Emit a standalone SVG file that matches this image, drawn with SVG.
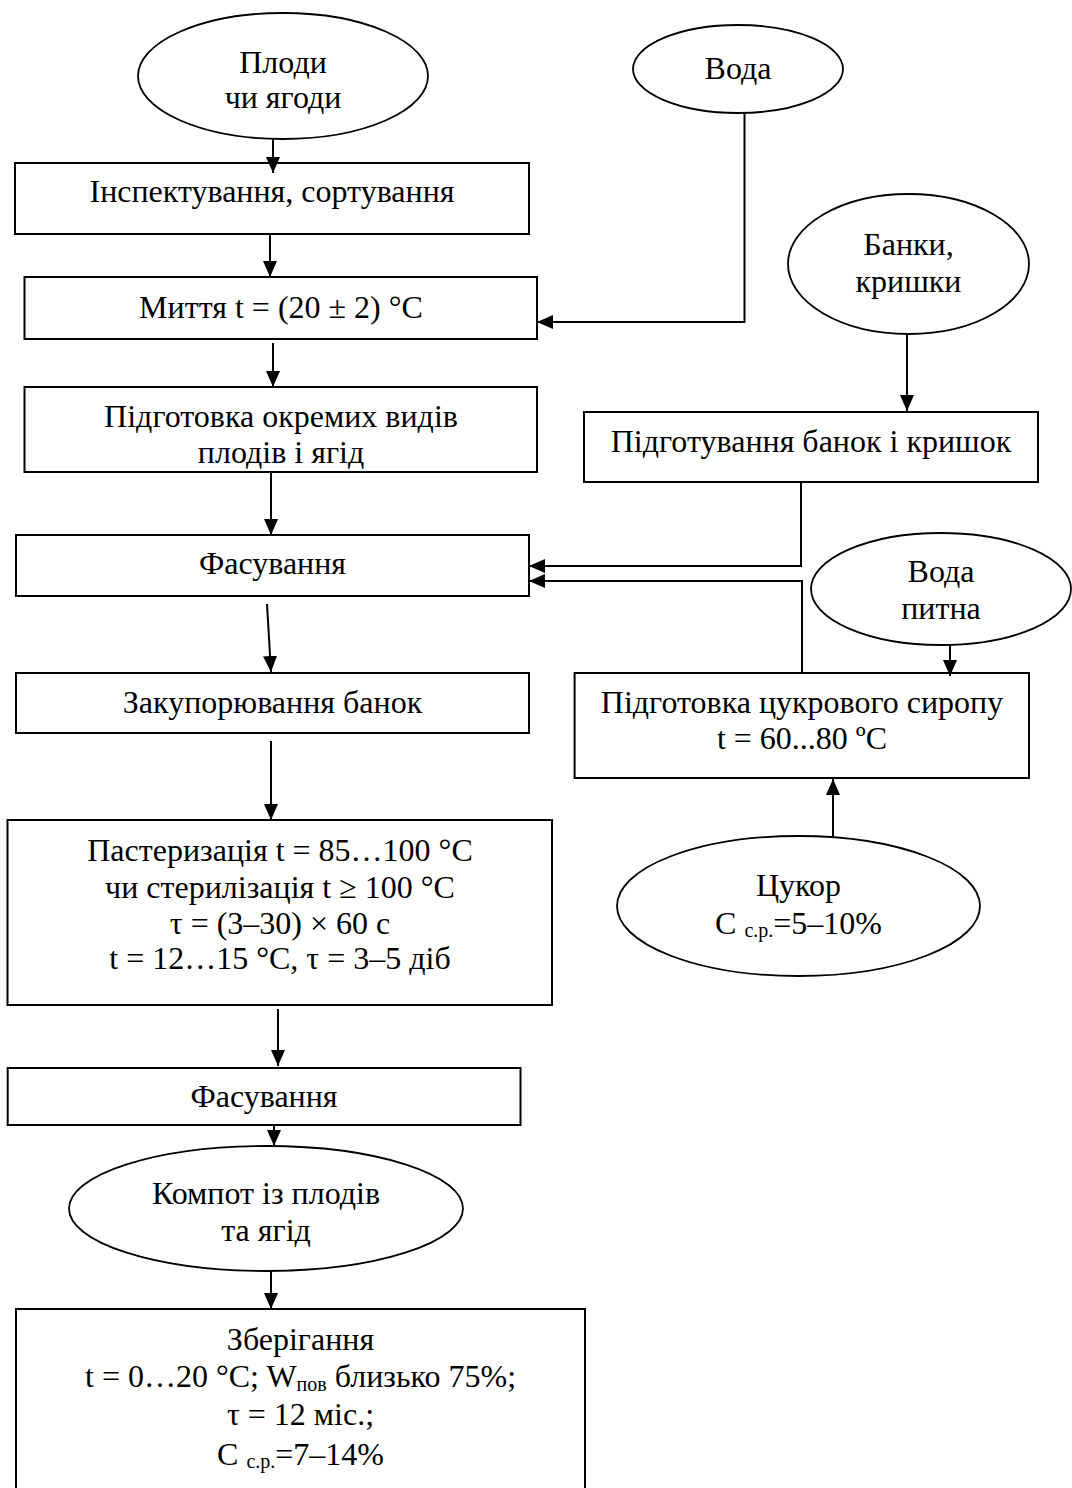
<svg xmlns="http://www.w3.org/2000/svg" width="1072" height="1488" viewBox="0 0 1072 1488">
<style>
text{font-family:"Liberation Serif","Times New Roman",serif;font-size:32px;fill:#000;text-anchor:middle}
.box{fill:#fff;stroke:#000;stroke-width:2}
.ov{fill:#fff;stroke:#000;stroke-width:1.8}
.c{fill:none;stroke:#000;stroke-width:2}
.sub{font-size:20px}
</style>
<defs>
<marker id="ah" markerWidth="16" markerHeight="14" refX="16" refY="7" orient="auto" markerUnits="userSpaceOnUse">
<path d="M0,0 L16,7 L0,14 z" fill="#000"/>
</marker>
</defs>
<rect width="1072" height="1488" fill="#fff"/>

<g id="n-plody"><ellipse class="ov" cx="283" cy="76" rx="145" ry="63"/><text x="283" y="73">Плоди</text><text x="283" y="108">чи ягоди</text></g>
<g id="n-insp"><rect class="box" x="15" y="163" width="514" height="71"/><text x="272" y="202">Інспектування, сортування</text></g>
<g id="n-myttia"><rect class="box" x="24.5" y="277" width="512.5" height="62"/><text x="281" y="318">Миття t = (20 ± 2) °C</text></g>
<g id="n-pidg"><rect class="box" x="24.5" y="387" width="512.5" height="85"/><text x="281" y="427">Підготовка окремих видів</text><text x="281" y="463">плодів і ягід</text></g>
<g id="n-fas1"><rect class="box" x="16" y="535" width="513" height="61"/><text x="272.5" y="574">Фасування</text></g>
<g id="n-zak"><rect class="box" x="16" y="673" width="513" height="60"/><text x="272.5" y="713">Закупорювання банок</text></g>
<g id="n-past"><rect class="box" x="7.5" y="820" width="544.5" height="185"/><text x="280" y="861">Пастеризація t = 85…100 °C</text><text x="280" y="898">чи стерилізація t ≥ 100 °C</text><text x="280" y="934">τ = (3–30) × 60 с</text><text x="280" y="969">t = 12…15 °C, τ = 3–5 діб</text></g>
<g id="n-fas2"><rect class="box" x="7.7" y="1068" width="512.8" height="57"/><text x="264" y="1107">Фасування</text></g>
<g id="n-kompot"><ellipse class="ov" cx="266" cy="1208.5" rx="197" ry="62.5"/><text x="266" y="1204">Компот із плодів</text><text x="266" y="1241">та ягід</text></g>
<g id="n-zber"><rect class="box" x="16" y="1309" width="569" height="190"/><text x="300.5" y="1350">Зберігання</text><text x="300.5" y="1387">t = 0…20 °C; W<tspan class="sub" dy="4">пов</tspan><tspan dy="-4"> близько 75%;</tspan></text><text x="300.5" y="1425">τ = 12 міс.;</text><text x="300.5" y="1465">C <tspan class="sub" dy="3">с.р.</tspan><tspan dy="-3">=7–14%</tspan></text></g>

<g id="n-voda"><ellipse class="ov" cx="738" cy="69" rx="105" ry="44"/><text x="738" y="79">Вода</text></g>
<g id="n-banky"><ellipse class="ov" cx="908.5" cy="264" rx="120.5" ry="70"/><text x="908.5" y="255">Банки,</text><text x="908.5" y="292">кришки</text></g>
<g id="n-pidg-bank"><rect class="box" x="584" y="412" width="454" height="70"/><text x="811" y="452">Підготування банок і кришок</text></g>
<g id="n-voda-pytna"><ellipse class="ov" cx="941" cy="589" rx="130" ry="56"/><text x="941" y="582">Вода</text><text x="941" y="619">питна</text></g>
<g id="n-syrop"><rect class="box" x="574.6" y="673" width="454.4" height="105"/><text x="802" y="713">Підготовка цукрового сиропу</text><text x="802" y="749">t = 60...80 ºC</text></g>
<g id="n-tsukor"><ellipse class="ov" cx="798.5" cy="906" rx="181.5" ry="70"/><text x="798.5" y="896">Цукор</text><text x="798.5" y="934">C <tspan class="sub" dy="3">с.р.</tspan><tspan dy="-3">=5–10%</tspan></text></g>

<g id="connectors" class="c">
<path class="c" d="M273,139 L273,173" marker-end="url(#ah)"/>
<path class="c" d="M270,234 L270,277" marker-end="url(#ah)"/>
<path class="c" d="M273,343 L273,387" marker-end="url(#ah)"/>
<path class="c" d="M271,472 L271,535" marker-end="url(#ah)"/>
<path class="c" d="M267,604 L271,672" marker-end="url(#ah)"/>
<path class="c" d="M271,741 L271,820" marker-end="url(#ah)"/>
<path class="c" d="M278,1009 L278,1066" marker-end="url(#ah)"/>
<path class="c" d="M274,1125 L274,1146" marker-end="url(#ah)"/>
<path class="c" d="M271,1271 L271,1309" marker-end="url(#ah)"/>
<path class="c" d="M744.5,113 L744.5,322 L537,322" marker-end="url(#ah)"/>
<path class="c" d="M907,334 L907,411" marker-end="url(#ah)"/>
<path class="c" d="M801,482 L801,566 L529,566" marker-end="url(#ah)"/>
<path class="c" d="M802,674 L802,581 L529,581" marker-end="url(#ah)"/>
<path class="c" d="M950,645 L950,676" marker-end="url(#ah)"/>
<path class="c" d="M833,836 L833,779" marker-end="url(#ah)"/>
</g>
</svg>
